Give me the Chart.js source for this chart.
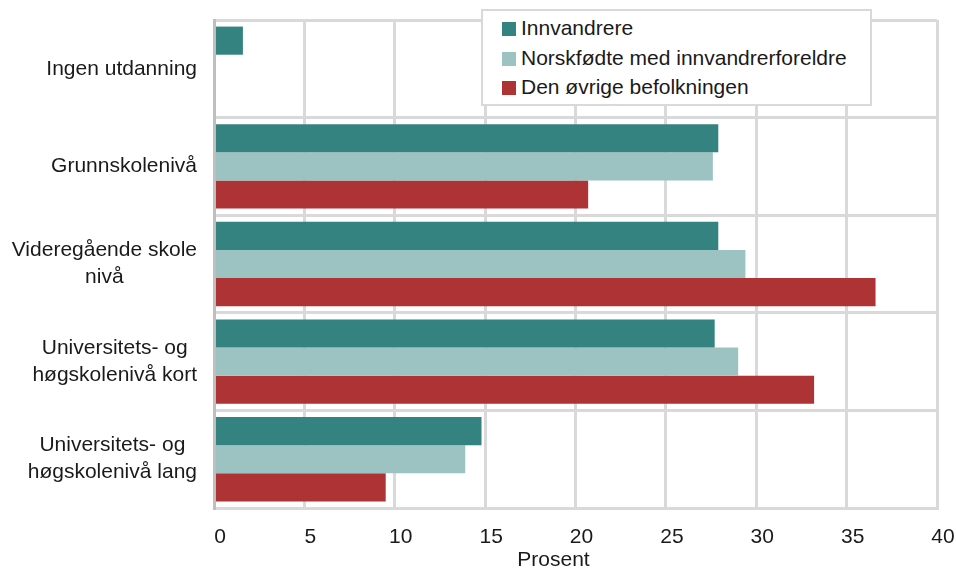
<!DOCTYPE html>
<html>
<head>
<meta charset="utf-8">
<script src="https://cdn.jsdelivr.net/npm/chart.js@4.4.0/dist/chart.umd.min.js"></script>
<style>
    html, body { margin: 0; padding: 0; background: #fff; }
    .wrap { position: relative; width: 956px; height: 572px; }
    .legend_box {
        position: absolute; left: 481px; top: 9px; width: 387px; height: 93px;
        background: #fff; border: 2px solid #d9d9d9;
        font: 21px "Liberation Sans", Arial, sans-serif; color: #1a1a1a;
    }
    .legend_box ul { list-style: none; margin: 0; padding: 2px 0 0 19px; }
    .legend_box li { height: 29.5px; line-height: 29.5px; white-space: nowrap; }
    .legend_box li span { display: inline-block; width: 14px; height: 14px; margin-right: 5px; vertical-align: -1px; }
</style>
</head>
<body>
<div class="wrap">
    <canvas id="chart_canvas" width="956" height="572"></canvas>
    <div class="legend_box"><ul id="legend_list"></ul></div>
</div>
<script>
// 카테고리 / 데이터
var categories = [
    'Ingen utdanning',
    'Grunnskolenivå',
    ['Videregående skole', 'nivå'],
    ['Universitets- og', 'høgskolenivå kort'],
    ['Universitets- og', 'høgskolenivå lang']
];
var innvandrere = [1.6, 27.9, 27.9, 27.7, 14.8];
var norskfodte = [0, 27.6, 29.4, 29.0, 13.9];
var ovrige = [0, 20.7, 36.6, 33.2, 9.5];
var xTicks = [0, 5, 10, 15, 20, 25, 30, 35, 40];
var xTitle = 'Prosent';

var fontFamily = '"Liberation Sans", Arial, sans-serif';
var textColor = '#1a1a1a';

// y축 라벨 (블록 오른쪽 정렬, 줄 가운데 정렬) + x축 제목
var labelPlugin = {
    id: 'axisLabels',
    afterDraw: function(chart) {
        var ctx = chart.ctx;
        var area = chart.chartArea;
        var y = chart.scales.y;
        ctx.save();
        ctx.font = '21px ' + fontFamily;
        ctx.fillStyle = textColor;
        ctx.textAlign = 'center';
        ctx.textBaseline = 'middle';
        categories.forEach(function(lab, i) {
            var lines = [].concat(lab);
            var w = Math.max.apply(null, lines.map(function(l) { return ctx.measureText(l).width; }));
            var cx = area.left - 17 - w / 2;
            var cy = y.getPixelForValue(i);
            lines.forEach(function(l, j) {
                ctx.fillText(l, cx, cy + (j - (lines.length - 1) / 2) * 27);
            });
        });
        // x축 제목
        ctx.fillText(xTitle, (area.left + area.right) / 2 - 22, area.bottom + 52);
        ctx.restore();
    }
};

var ctx = document.getElementById('chart_canvas');
var chart = new Chart(ctx, {
    type: 'bar',
    data: {
        labels: categories,
        datasets: [{
            label: 'Innvandrere',
            data: innvandrere,
            backgroundColor: '#348381'
        },
        {
            label: 'Norskfødte med innvandrerforeldre',
            data: norskfodte,
            backgroundColor: '#9cc3c2'
        },
        {
            label: 'Den øvrige befolkningen',
            data: ovrige,
            backgroundColor: '#ad3334'
        }]
    },
    options: {
        indexAxis: 'y',
        responsive: false,
        animation: false,
        categoryPercentage: 0.865,
        barPercentage: 1.0,
        layout: { padding: { top: 20, right: 19, left: 0, bottom: 0 } },
        scales: {
            x: {
                min: 0,
                max: 40,
                afterBuildTicks: function(s) {
                    s.ticks = xTicks.map(function(v) { return { value: v }; });
                },
                afterFit: function(s) {
                    s.height = 64;
                    s.paddingLeft = 0;
                    s.paddingRight = 0;
                },
                grid: { color: '#d9d9d9', lineWidth: 3, drawTicks: false },
                border: { color: '#d9d9d9', width: 3 },
                ticks: {
                    padding: 17,
                    labelOffset: 6,
                    color: textColor,
                    font: { family: fontFamily, size: 21 }
                }
            },
            y: {
                afterFit: function(s) { s.width = 214; },
                grid: { color: '#d9d9d9', lineWidth: 3, drawTicks: false, offset: true },
                border: { color: '#bfbfbf', width: 3, z: 1 },
                ticks: { display: false }
            }
        },
        plugins: {
            legend: { display: false },
            tooltip: { enabled: false }
        }
    },
    plugins: [labelPlugin]
});

// 범례
var list = document.getElementById('legend_list');
chart.data.datasets.forEach(function(ds) {
    var li = document.createElement('li');
    var sw = document.createElement('span');
    sw.style.background = ds.backgroundColor;
    li.appendChild(sw);
    li.appendChild(document.createTextNode(ds.label));
    list.appendChild(li);
});
</script>
</body>
</html>
